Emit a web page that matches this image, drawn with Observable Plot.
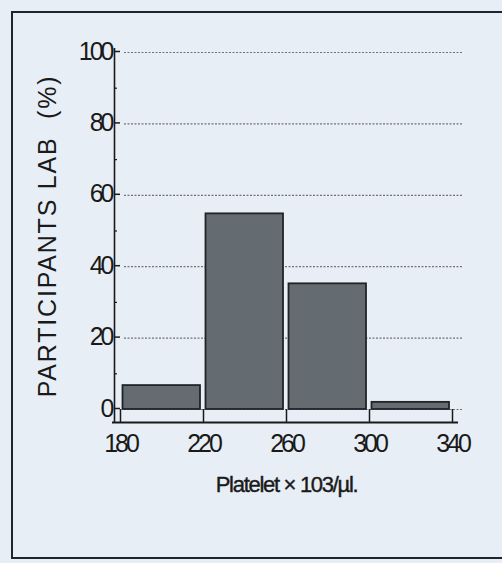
<!DOCTYPE html>
<html>
<head>
<meta charset="utf-8">
<script src="https://cdn.jsdelivr.net/npm/d3@7"></script>
<script src="https://cdn.jsdelivr.net/npm/@observablehq/plot@0.6"></script>
<style>
  html, body { margin: 0; padding: 0; background: #e8eef5; overflow: hidden; }
  #wrap { position: relative; width: 502px; height: 563px; }
  #border { position: absolute; left: 11px; top: 11px; width: 520px; height: 548px;
            border: 2px solid #1d2530; box-sizing: border-box; }
  #chart { position: absolute; left: 0; top: 0; }
  #chart svg text { font-family: "Liberation Sans", Arial, sans-serif; }
  .tick-lbl text { letter-spacing: -3px; }
  .ylab text { letter-spacing: 1.8px; }
  .xlab text { letter-spacing: -1.3px; }
</style>
</head>
<body>
<div id="wrap">
  <div id="border"></div>
  <div id="chart"></div>
</div>
<script>
// Data
const binStarts = [180, 220, 260, 300];
const binEnds   = [220, 260, 300, 340];
const percents  = [6.7, 54.8, 35.2, 2.0];
const xTicks = [180, 220, 260, 300, 340];
const yTicks = [0, 20, 40, 60, 80, 100];
const yMinor = [10, 30, 50, 70, 90];
const yLabel = "PARTICIPANTS LAB  (%)";
const xLabel = "Platelet × 103/µl.";

const bins = binStarts.map((s, i) => ({x1: s, x2: binEnds[i], y: percents[i]}));

const chart = Plot.plot({
  width: 502,
  height: 563,
  marginLeft: 120,
  marginRight: 50,
  marginTop: 52,
  marginBottom: 154,
  style: {background: "transparent", color: "#1a1a1a", overflow: "visible"},
  x: {domain: [180, 340]},
  y: {domain: [0, 100]},
  marks: [
    // dotted gridlines
    Plot.ruleY(yTicks, {stroke: "#6f747a", strokeWidth: 1.2, strokeDasharray: "2,1.5", insetLeft: 4, insetRight: -10}),
    // bars
    Plot.rectY(bins, {x1: "x1", x2: "x2", y: "y", fill: "#646b71", stroke: "#1f2429", strokeWidth: 1.8, insetLeft: 2.5, insetRight: 3}),
    // y axis line
    Plot.ruleX([180], {dx: -6, stroke: "#1a1a1a", strokeWidth: 1.6, insetTop: -4, insetBottom: -13}),
    // x axis line
    Plot.ruleY([0], {dy: 13, stroke: "#1a1a1a", strokeWidth: 1.8, insetLeft: -8, insetRight: -6}),
    // major y ticks and labels
    Plot.axisY({ticks: yTicks, tickSize: 6, tickPadding: 3, fontSize: 25, dy: -1, label: null, className: "tick-lbl", stroke: "#1a1a1a", strokeWidth: 1.5}),
    // minor y ticks
    Plot.axisY({ticks: yMinor, tickSize: 3, dx: -3, text: null, label: null, stroke: "#1a1a1a", strokeWidth: 1.2}),
    // x ticks and labels
    Plot.axisX({ticks: xTicks, tickSize: 13, tickPadding: 12, fontSize: 25, className: "tick-lbl", stroke: "#1a1a1a", strokeWidth: 1.5, label: null}),
    // axis titles
    Plot.text([yLabel], {text: d => d, frameAnchor: "left", textAnchor: "middle", rotate: -90, dx: -73, dy: 5, fontSize: 25, fill: "#1a1a1a", className: "ylab"}),
    Plot.text([xLabel], {text: d => d, frameAnchor: "bottom", dy: 82, fontSize: 22, fill: "#1a1a1a", stroke: "#1a1a1a", strokeWidth: 0.4, className: "xlab"})
  ]
});
document.getElementById("chart").appendChild(chart);
</script>
</body>
</html>
